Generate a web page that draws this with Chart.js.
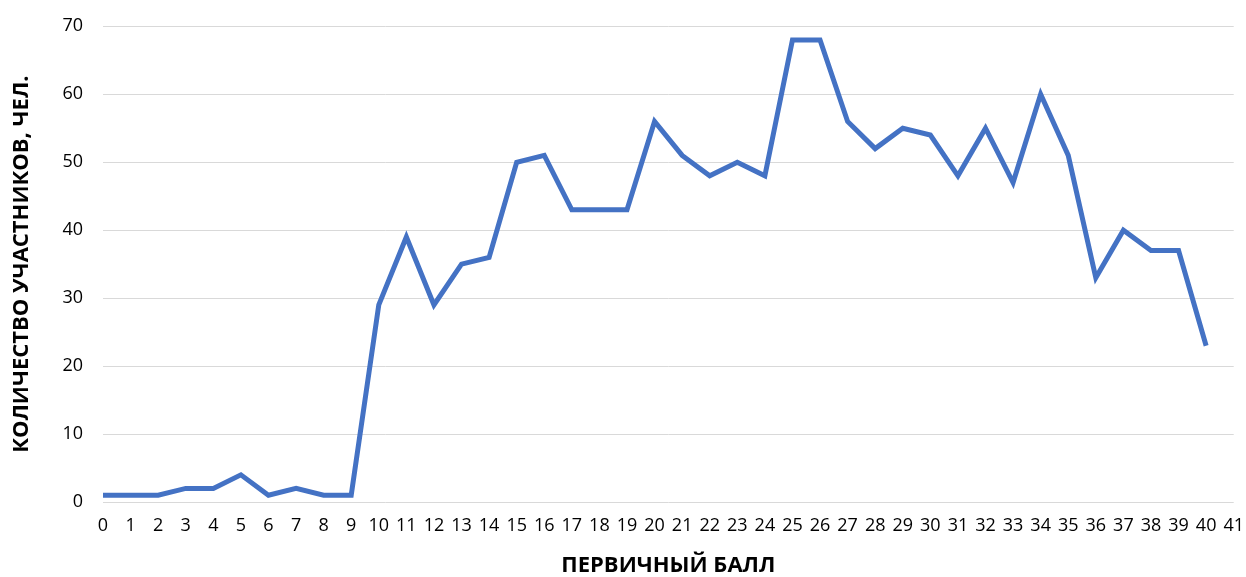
<!DOCTYPE html>
<html>
<head>
<meta charset="utf-8">
<script src="https://cdn.jsdelivr.net/npm/chart.js@4"></script>
<style>
  html, body { margin: 0; padding: 0; background: #fff; }
  #wrap { width: 1246px; height: 577px; }
</style>
</head>
<body>
<div id="wrap"><canvas id="myChart" width="1246" height="577"></canvas></div>
<script>
// tick labels on the x axis (0..41), data goes to 40
const scoreLabels = [];
for (let i = 0; i <= 41; i++) scoreLabels.push(String(i));

// number of participants per primary score
const participants = [
  1, 1, 1, 2, 2, 4, 1, 2, 1, 1,
  29, 39, 29, 35, 36, 50, 51, 43, 43, 43,
  56, 51, 48, 50, 48, 68, 68, 56, 52, 55,
  54, 48, 55, 47, 60, 51, 33, 40, 37, 37,
  23
];

const xTitle = "ПЕРВИЧНЫЙ БАЛЛ";
const yTitle = "КОЛИЧЕСТВО УЧАСТНИКОВ, ЧЕЛ.";

const ctx = document.getElementById("myChart").getContext("2d");
new Chart(ctx, {
  type: "line",
  data: {
    labels: scoreLabels,
    datasets: [
      {
        label: "Участники",
        data: participants,
        borderColor: "#4472C4",
        borderWidth: 5,
        pointRadius: 0,
        tension: 0,
        fill: false,
      },
    ],
  },
  options: {
    responsive: false,
    animation: false,
    layout: { padding: { top: 14, right: 0, left: 0, bottom: 0 } },
    plugins: {
      legend: { display: false },
      tooltip: { enabled: false },
    },
    scales: {
      x: {
        offset: false,
        grid: { display: false, drawTicks: false },
        border: { display: false },
        ticks: {
          color: "#000",
          // tall line height pushes labels down without widening the right padding
          font: { family: "Open Sans", size: 18, lineHeight: 2.4 },
          maxRotation: 0,
          autoSkip: false,
          padding: 2,
        },
        title: {
          display: true,
          text: xTitle,
          color: "#000",
          font: { family: "Open Sans", size: 22, weight: "bold", lineHeight: 1 },
          padding: { top: 0, bottom: 0 },
        },
        afterFit: (scale) => { scale.height = 75; },
      },
      y: {
        min: 0,
        max: 70,
        ticks: {
          stepSize: 10,
          color: "#000",
          // small line height keeps the top padding tight
          font: { family: "Open Sans", size: 18, lineHeight: 0.7 },
          padding: 20,
        },
        grid: { color: "#d9d9d9", lineWidth: 1, drawTicks: false },
        border: { display: false },
        title: {
          display: true,
          text: yTitle,
          color: "#000",
          font: { family: "Open Sans", size: 22, weight: "bold" },
          padding: { top: 9, bottom: 0 },
        },
        afterFit: (scale) => { scale.width = 103; },
      },
    },
  },
});
</script>
</body>
</html>
